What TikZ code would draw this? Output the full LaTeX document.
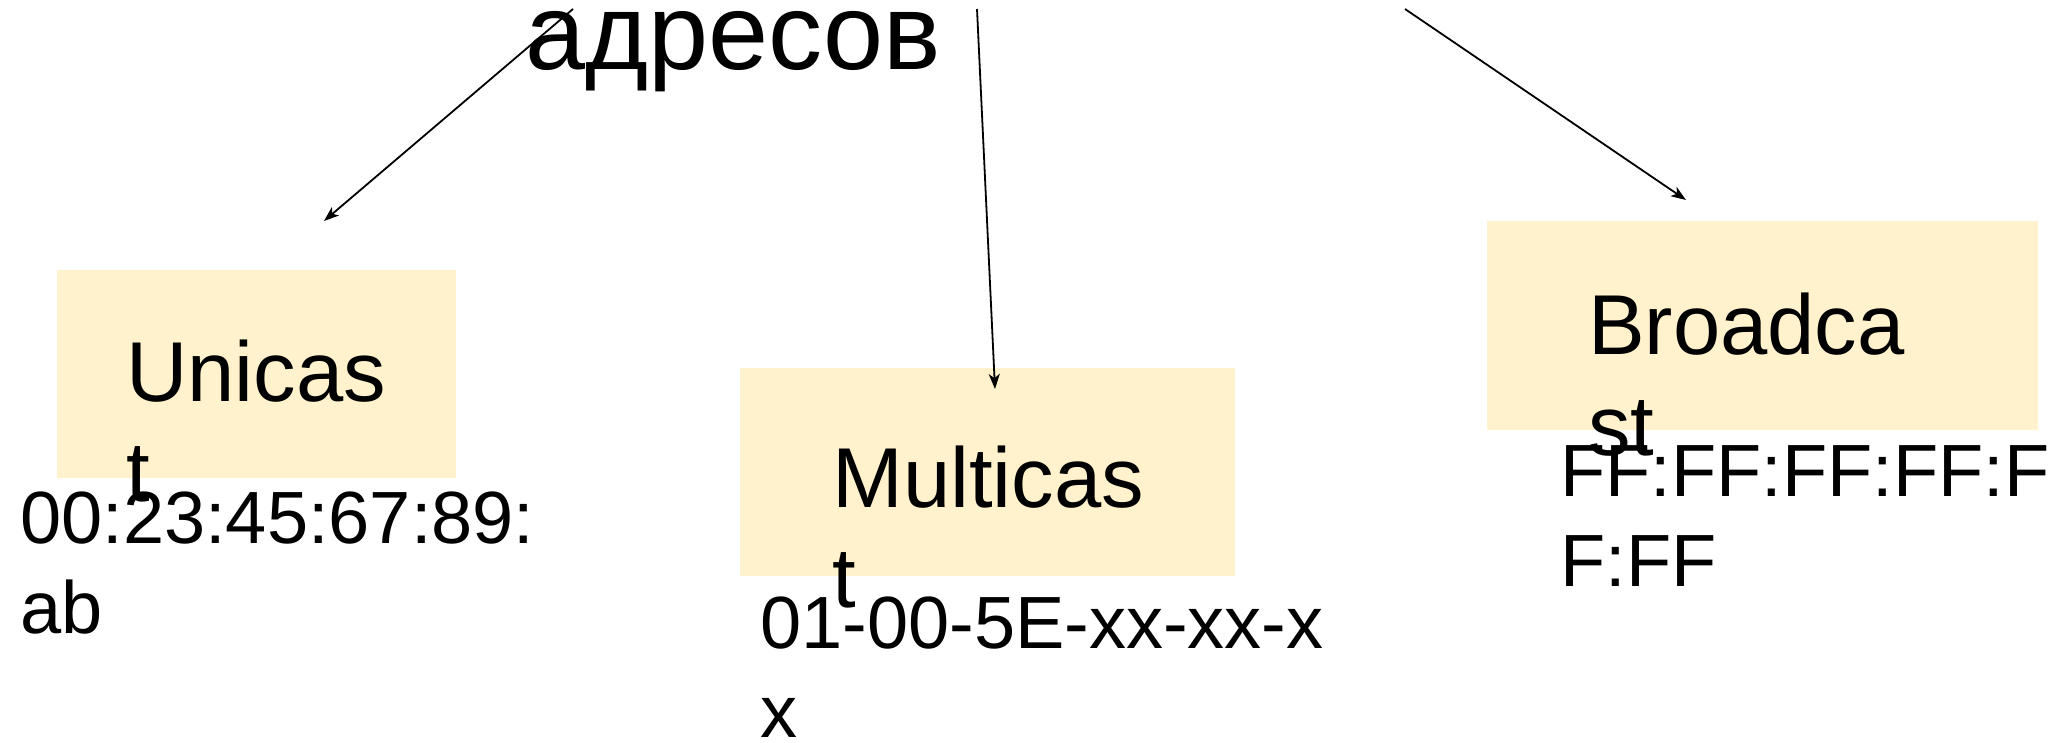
\documentclass[tikz,border=0pt]{standalone}
\usepackage{fontspec}
\setmainfont{Liberation Sans}
\usetikzlibrary{arrows.meta}
\definecolor{boxfill}{RGB}{255,242,204}
\begin{document}
\begin{tikzpicture}[x=1pt,y=-1pt,
  box/.style={fill=boxfill, draw=none, anchor=north west, inner sep=0pt},
  lbl/.style={anchor=base west, inner sep=0pt, font=\fontsize{85}{100}\selectfont},
  addr/.style={anchor=base west, inner sep=0pt, font=\fontsize{74}{90}\selectfont},
  conn/.style={line width=1.8pt, -{Stealth[length=15pt,width=11pt,inset=4pt]}}]
\useasboundingbox (0,0) rectangle (2067,743);
\fill[white] (0,0) rectangle (2067,743);
% boxes
\node[box, minimum width=399pt, minimum height=208pt] (uni) at (57,270) {};
\node[box, minimum width=495pt, minimum height=208pt] (multi) at (740,368) {};
\node[box, minimum width=551pt, minimum height=209pt] (broad) at (1487,221) {};
% title
\node[anchor=base west, inner sep=0pt, font=\fontsize{108}{127}\selectfont] (title) at (525,70) {адресов};
% box labels
\node[lbl] (uniA) at (126,401) {Unicas};
\node[lbl] (uniB) at (126,501) {t};
\node[lbl] (mulA) at (832,507) {Multicas};
\node[lbl] (mulB) at (832,607) {t};
\node[lbl] (broA) at (1588,355) {Broadca};
\node[lbl] (broB) at (1588,455) {st};
% addresses
\node[addr] (ucA) at (20,543) {00:23:45:67:89:};
\node[addr] (ucB) at (20,633) {ab};
\node[addr] (mcA) at (760,648) {01-00-5E-xx-xx-x};
\node[addr] (mcB) at (760,737) {x};
\node[addr] (bcA) at (1560,496) {FF:FF:FF:FF:F};
\node[addr] (bcB) at (1560,586) {F:FF};
% connectors
\coordinate (s1) at (573,9);
\coordinate (e1) at (324,221);
\coordinate (s2) at (977,9);
\coordinate (e2) at (995,389);
\coordinate (s3) at (1405,9);
\coordinate (e3) at (1686,200);
\draw[conn] (s1) -- (e1);
\draw[conn] (s2) -- (e2);
\draw[conn] (s3) -- (e3);
\end{tikzpicture}
\end{document}
